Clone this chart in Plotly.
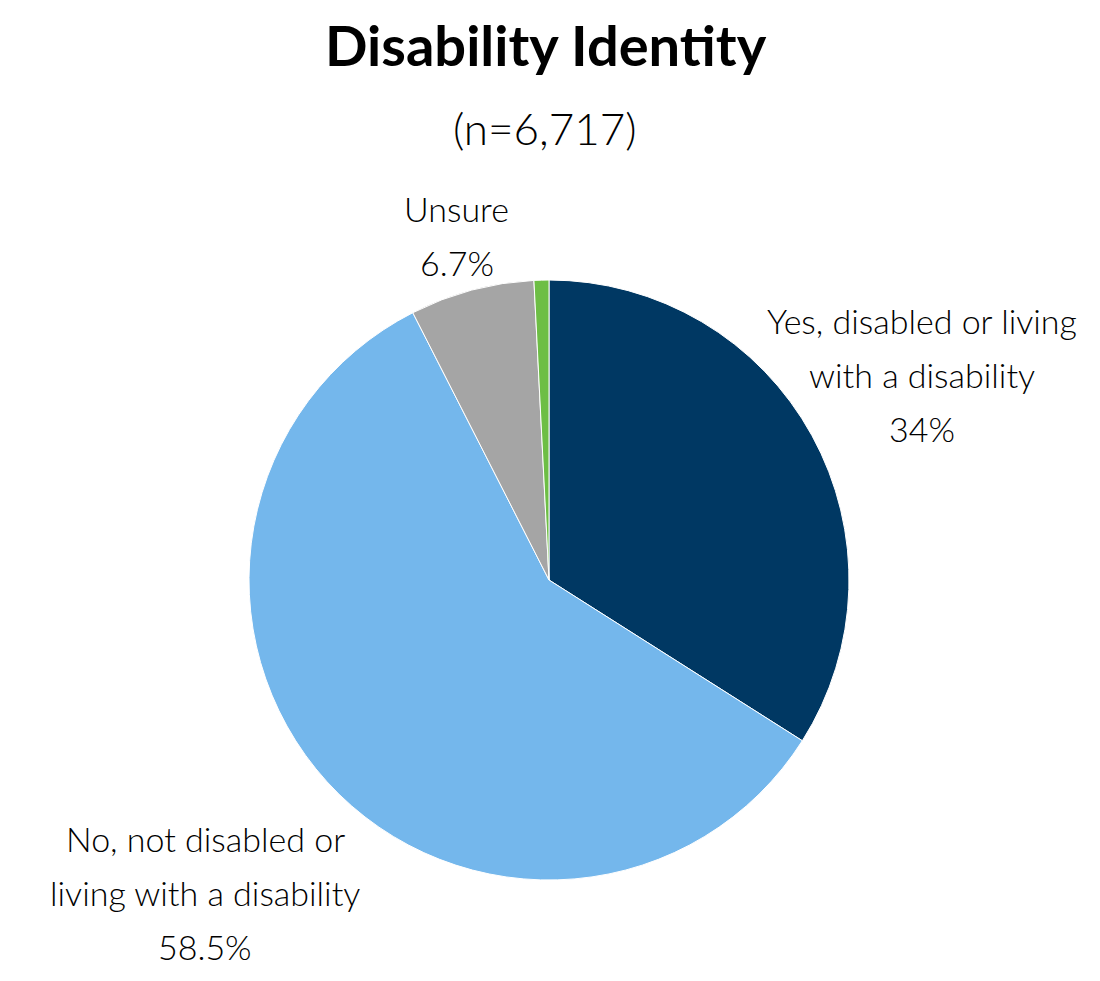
import math
import plotly.graph_objects as go

labels = ["Yes, disabled or living with a disability",
          "No, not disabled or living with a disability",
          "Unsure", "Prefer not to say"]
values = [34.0, 58.5, 6.7, 0.8]
label_lines = [
    ["Yes, disabled or living", "with a disability", "34%"],
    ["No, not disabled or", "living with a disability", "58.5%"],
    ["Unsure", "6.7%"],
    [],
]
colors = ["#003863", "#74B7EC", "#A5A5A5", "#6DBE45"]
label_dist = [1.42, 1.55, 1.19, 1.0]  # label distance as fraction of radius

W, H = 1100, 981
OFF = 8  # page body margin
CX, CY, R = 549 - OFF, 580 - OFF, 300  # pie centre and radius in px (from top)
FONT = "Lato, 'Open Sans', sans-serif"

fig = go.Figure(go.Pie(
    labels=labels,
    values=values,
    sort=False,
    direction="clockwise",
    rotation=0,
    textinfo="none",
    hoverinfo="label+percent",
    marker=dict(colors=colors, line=dict(color="white", width=1)),
    domain=dict(x=[(CX - R) / W, (CX + R) / W],
                y=[(H - CY - R) / H, (H - CY + R) / H]),
    showlegend=False,
))

annotations = [
    dict(text="<b>Disability Identity</b>", x=(546 - OFF) / W, y=1 - (44 - OFF) / H,
         xref="paper", yref="paper", xanchor="center", yanchor="middle",
         showarrow=False, font=dict(size=56, family=FONT, color="black")),
    dict(text="(n=6,717)", x=(545 - OFF) / W, y=1 - (128 - OFF) / H,
         xref="paper", yref="paper", xanchor="center", yanchor="middle",
         showarrow=False, font=dict(size=44, family=FONT, color="black", weight=300)),
]

total = sum(values)
start = 0.0
line_gap = 54
for v, lines, d in zip(values, label_lines, label_dist):
    mid = (start + v / 2) / total * 2 * math.pi
    start += v
    if not lines:
        continue
    px = CX + d * R * math.sin(mid)
    py = CY - d * R * math.cos(mid)
    n = len(lines)
    for i, line in enumerate(lines):
        ly = py + (i - (n - 1) / 2) * line_gap
        annotations.append(dict(
            text=line, x=px / W, y=1 - ly / H, xref="paper", yref="paper",
            showarrow=False, xanchor="center", yanchor="middle",
            font=dict(size=34, family=FONT, color="black", weight=300)))

fig.update_layout(
    width=W, height=H,
    margin=dict(l=0, r=0, t=0, b=0),
    paper_bgcolor="white",
    plot_bgcolor="white",
    annotations=annotations,
)

fig.write_html("out.html")
